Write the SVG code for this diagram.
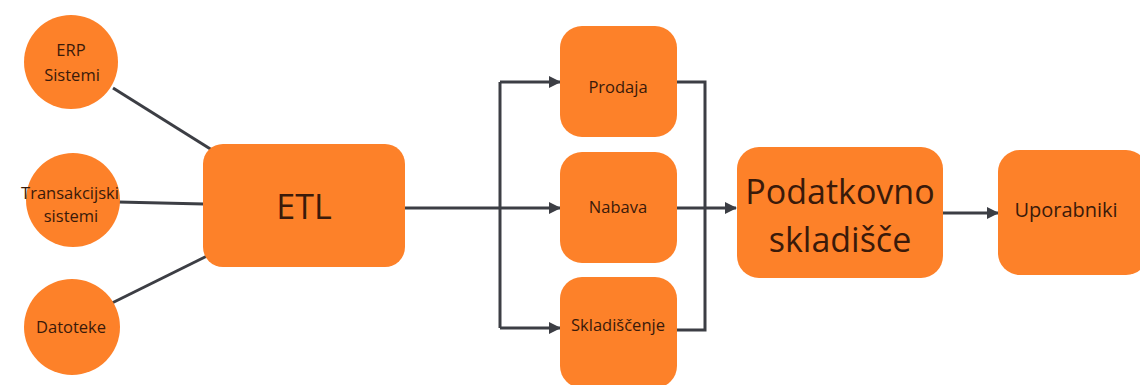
<svg xmlns="http://www.w3.org/2000/svg" width="1140" height="385" viewBox="0 0 1140 385">
  <style>
    .node { fill: #fd8129; }
    .lbl { font-family: "Open Sans", "Noto Sans", sans-serif; fill: #3a1a0a; text-anchor: middle; }
    .sm { font-size: 16.5px; }
    .big { font-size: 34px; }
    .conn { stroke: #3c3e44; stroke-width: 3; fill: none; }
  </style>
  <defs>
    <marker id="arrow" viewBox="0 0 12 12" refX="11" refY="6" markerWidth="12" markerHeight="12" markerUnits="userSpaceOnUse" orient="auto">
      <path d="M0,0 L12,6 L0,12 z" fill="#3c3e44"/>
    </marker>
  </defs>
  <rect width="1140" height="385" fill="#ffffff"/>

  <!-- connectors -->
  <g id="connectors">
    <line class="conn" x1="113" y1="88" x2="212" y2="150"/>
    <line class="conn" x1="118" y1="202" x2="204" y2="204"/>
    <line class="conn" x1="112" y1="303" x2="207" y2="256"/>
    <line class="conn" x1="405" y1="208" x2="500" y2="208"/>
    <line class="conn" x1="500" y1="82" x2="500" y2="328"/>
    <line class="conn" x1="500" y1="82" x2="560" y2="82" marker-end="url(#arrow)"/>
    <line class="conn" x1="500" y1="208" x2="560" y2="208" marker-end="url(#arrow)"/>
    <line class="conn" x1="500" y1="328" x2="560" y2="328" marker-end="url(#arrow)"/>
    <polyline class="conn" points="677,82 705,82 705,330 677,330"/>
    <line class="conn" x1="677" y1="208" x2="736" y2="208" marker-end="url(#arrow)"/>
    <line class="conn" x1="943" y1="213" x2="998" y2="213" marker-end="url(#arrow)"/>
  </g>

  <!-- sources -->
  <g id="erp">
    <circle class="node" cx="71" cy="62" r="47"/>
    <text class="lbl sm" x="71" y="56">ERP</text>
    <text class="lbl sm" x="72" y="81">Sistemi</text>
  </g>
  <g id="transakcijski">
    <circle class="node" cx="73" cy="200" r="47"/>
    <text class="lbl sm" x="70" y="199">Transakcijski</text>
    <text class="lbl sm" x="71" y="222">sistemi</text>
  </g>
  <g id="datoteke">
    <circle class="node" cx="72" cy="327" r="48"/>
    <text class="lbl sm" x="71" y="333">Datoteke</text>
  </g>

  <g id="etl">
    <rect class="node" x="203" y="144" width="202" height="123" rx="20"/>
    <text class="lbl big" x="304" y="219">ETL</text>
  </g>

  <!-- subject areas -->
  <g id="prodaja">
    <rect class="node" x="560" y="26" width="117" height="111" rx="22"/>
    <text class="lbl sm" x="618" y="93">Prodaja</text>
  </g>
  <g id="nabava">
    <rect class="node" x="560" y="152" width="117" height="111" rx="22"/>
    <text class="lbl sm" x="618" y="213">Nabava</text>
  </g>
  <g id="skladiscenje">
    <rect class="node" x="560" y="277" width="117" height="111" rx="22"/>
    <text class="lbl sm" x="618" y="331">Skladiščenje</text>
  </g>

  <g id="podatkovno-skladisce">
    <rect class="node" x="737" y="147" width="206" height="131" rx="22"/>
    <text class="lbl big" x="840" y="204">Podatkovno</text>
    <text class="lbl big" x="840" y="252">skladišče</text>
  </g>

  <g id="uporabniki">
    <rect class="node" x="998" y="150" width="150" height="125" rx="22"/>
    <text class="lbl sm" x="1066" y="217" style="font-size:20px">Uporabniki</text>
  </g>
</svg>
